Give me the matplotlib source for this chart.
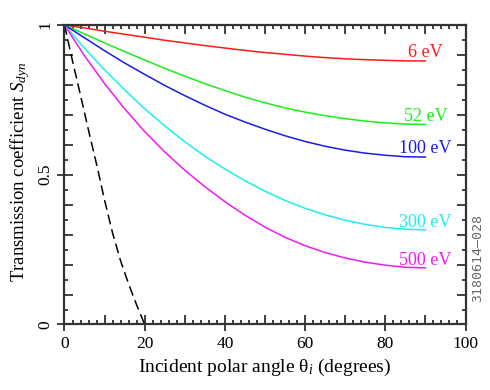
import matplotlib
matplotlib.use("Agg")
import matplotlib.pyplot as plt
import numpy as np

# incident polar angle (degrees)
theta = np.arange(0, 95, 5)

s_6ev = [1.000, 0.990, 0.979, 0.969, 0.959, 0.949, 0.940, 0.931, 0.923, 0.915,
         0.908, 0.902, 0.896, 0.891, 0.887, 0.884, 0.882, 0.880, 0.880]
s_52ev = [1.000, 0.970, 0.940, 0.911, 0.883, 0.855, 0.829, 0.804, 0.781, 0.759,
          0.740, 0.723, 0.709, 0.697, 0.687, 0.679, 0.673, 0.669, 0.668]
s_100ev = [1.000, 0.957, 0.914, 0.873, 0.835, 0.798, 0.764, 0.732, 0.702, 0.676,
           0.652, 0.630, 0.611, 0.595, 0.582, 0.572, 0.565, 0.560, 0.559]
s_300ev = [1.000, 0.922, 0.850, 0.783, 0.720, 0.663, 0.610, 0.562, 0.519, 0.480,
           0.445, 0.414, 0.388, 0.366, 0.348, 0.334, 0.324, 0.318, 0.316]
s_500ev = [1.000, 0.897, 0.804, 0.720, 0.644, 0.576, 0.515, 0.460, 0.410, 0.365,
           0.325, 0.291, 0.263, 0.240, 0.222, 0.208, 0.198, 0.191, 0.189]

# dashed reference curve
theta_d = [0, 2, 4, 6, 8, 10, 12, 14, 16, 18, 20]
s_dash = [1.0, 0.88, 0.765, 0.648, 0.535, 0.415, 0.305, 0.212, 0.135, 0.065, 0.0]

labels = ["6 eV", "52 eV", "100 eV", "300 eV", "500 eV"]
colors = ["#ff1a1a", "#1aee1a", "#1a1aee", "#1af0f0", "#f01af0"]
label_y = [0.893, 0.680, 0.573, 0.327, 0.200]

plt.rcParams["font.family"] = "Liberation Serif"
plt.rcParams["mathtext.fontset"] = "custom"
plt.rcParams["mathtext.rm"] = "Liberation Serif"
plt.rcParams["mathtext.it"] = "Liberation Serif:italic"

fig = plt.figure(figsize=(4.9, 3.9), dpi=100)
ax = fig.add_axes([0.1316, 0.168, 0.8184, 0.768])

for ys, c, lab, ly in zip([s_6ev, s_52ev, s_100ev, s_300ev, s_500ev], colors, labels, label_y):
    ax.plot(theta, ys, color=c, lw=1.1)
    ax.text(90, ly, lab, color=c, ha="center", va="baseline", fontsize=13)

ln, = ax.plot(theta_d, s_dash, color="black", lw=1.1)
ln.set_dashes((6.5, 3.3))

ax.set_xlim(0, 100)
ax.set_ylim(0, 1)

spine_c = "#333333"
for sp in ax.spines.values():
    sp.set_color(spine_c)
    sp.set_linewidth(1.6)

ax.xaxis.set_major_locator(plt.MultipleLocator(10))
ax.xaxis.set_minor_locator(plt.MultipleLocator(2))
ax.yaxis.set_major_locator(plt.MultipleLocator(0.1))
ax.yaxis.set_minor_locator(plt.MultipleLocator(0.05))
ax.tick_params(which="both", direction="in", top=True, right=True,
               labelbottom=False, labelleft=False, color=spine_c, width=1.3)
ax.tick_params(which="major", length=6.5)
ax.tick_params(which="minor", length=3)

# labelled ticks stick out of the frame
secx = ax.secondary_xaxis("bottom")
secx.set_xticks([0, 20, 40, 60, 80, 100])
secx.tick_params(direction="out", length=5, width=1.3, color=spine_c,
                 labelsize=12.5, pad=3)
secx.spines["bottom"].set_visible(False)
secx.set_xlabel("Incident polar angle θ$_i$ (degrees)", fontsize=14, labelpad=4)

secy = ax.secondary_yaxis("left")
secy.set_yticks([0, 0.5, 1], labels=["0", "0.5", "1"])
secy.tick_params(direction="out", length=5, width=1.3, color=spine_c,
                 labelsize=12.5, pad=3)
for t in secy.get_yticklabels():
    t.set_rotation(90)
    t.set_va("center")
secy.spines["left"].set_visible(False)

fig.text(20 / 490, 1 - 172 / 390, "Transmission coefficient $S_{dyn}$",
         rotation=90, ha="center", va="center", fontsize=13.5)

fig.text(478 / 490, 1 - 302 / 390, "3180614\u2013028", rotation=90, ha="center",
         va="bottom", fontsize=9.5, color="#666666", family="DejaVu Sans Mono")

fig.savefig("out.png", dpi=100)
plt.close(fig)
